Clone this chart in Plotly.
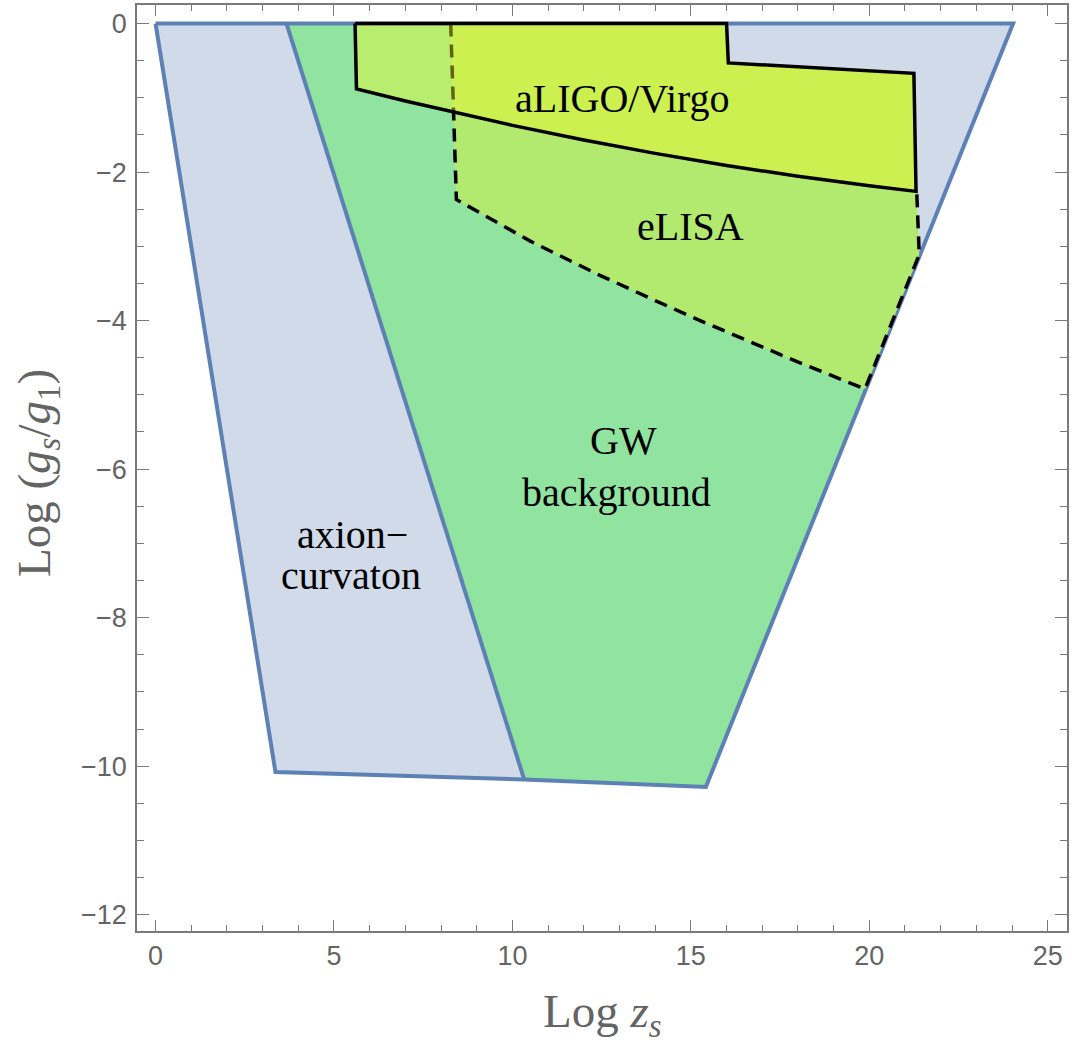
import plotly.graph_objects as go

# ---- data ----
# axion-curvaton region (outer polygon)
outer_x = [0, 24.03, 15.42, 10.33, 3.36]
outer_y = [0, 0, -10.28, -10.18, -10.08]

# GW background region
gw_x = [3.67, 10.33, 15.42, 19.88, 8.43, 8.27]
gw_y = [0, -10.18, -10.28, -4.92, -2.37, 0]
gw_edge_x = [3.67, 10.33]
gw_edge_y = [0, -10.18]

# eLISA region: visible dashed boundary, then hidden closure under aLIGO
elisa_dash_x = [8.27, 8.43, 10.5, 12.45, 14.0, 15.26, 18.06, 19.88, 21.40, 21.33]
elisa_dash_y = [0, -2.37, -2.93, -3.39, -3.73, -4.00, -4.57, -4.92, -3.11, -2.28]
elisa_close_x = [21.25, 16.05, 16.0]
elisa_close_y = [-0.67, -0.53, 0]

# aLIGO/Virgo region
aligo_x = [5.59, 16.0, 16.05, 21.25, 21.31, 20, 18, 16, 14, 12, 10, 8.3, 7, 5.63, 5.59]
aligo_y = [0, 0, -0.53, -0.67, -2.26, -2.185, -2.057, -1.911, -1.748, -1.568, -1.371, -1.189, -1.043, -0.88, 0]

# region labels: (text, x, y)
label_text = ["aLIGO/Virgo", "eLISA", "GW", "background", "axion\u2212", "curvaton"]
label_x = [13.08, 15.0, 13.1, 12.92, 5.52, 5.48]
label_y = [-1.005, -2.73, -5.615, -6.315, -6.875, -7.434]

x_range = [-0.52, 25.54]
y_range = [-12.22, 0.25]

# ---- styles ----
BLUE_FILL = "#D0DAE8"
BLUE_LINE = "#5E81B5"
GREEN_FILL = "#91E4A0"
ELISA_FILL = "#B2EA70"
ALIGO_FILL = "rgba(243,249,32,0.4)"
AXIS_GRAY = "#7a7a7a"
TEXT_GRAY = "#646464"
SERIF = "Liberation Serif, Times New Roman, serif"

fig = go.Figure()

# axion-curvaton fill
fig.add_trace(go.Scatter(x=outer_x + [outer_x[0]], y=outer_y + [outer_y[0]],
                         mode="lines", fill="toself", fillcolor=BLUE_FILL,
                         line=dict(width=0, color=BLUE_FILL), hoverinfo="skip"))
# GW background fill
fig.add_trace(go.Scatter(x=gw_x + [gw_x[0]], y=gw_y + [gw_y[0]],
                         mode="lines", fill="toself", fillcolor=GREEN_FILL,
                         line=dict(width=0, color=GREEN_FILL), hoverinfo="skip"))
# blue boundaries
fig.add_trace(go.Scatter(x=outer_x + [outer_x[0]], y=outer_y + [outer_y[0]],
                         mode="lines", line=dict(width=4, color=BLUE_LINE), hoverinfo="skip"))
fig.add_trace(go.Scatter(x=gw_edge_x, y=gw_edge_y,
                         mode="lines", line=dict(width=4, color=BLUE_LINE), hoverinfo="skip"))
# eLISA fill
ex = elisa_dash_x + elisa_close_x + [elisa_dash_x[0]]
ey = elisa_dash_y + elisa_close_y + [elisa_dash_y[0]]
fig.add_trace(go.Scatter(x=ex, y=ey, mode="lines", fill="toself", fillcolor=ELISA_FILL,
                         line=dict(width=0, color=ELISA_FILL), hoverinfo="skip"))
fig.add_trace(go.Scatter(x=elisa_dash_x, y=elisa_dash_y, mode="lines",
                         line=dict(width=3.5, color="black", dash="13px,8px"), hoverinfo="skip"))
# aLIGO/Virgo (semi-transparent overlay)
fig.add_trace(go.Scatter(x=aligo_x, y=aligo_y, mode="lines", fill="toself", fillcolor=ALIGO_FILL,
                         line=dict(width=0, color="rgba(0,0,0,0)"), hoverinfo="skip"))
fig.add_trace(go.Scatter(x=aligo_x, y=aligo_y, mode="lines",
                         line=dict(width=3.5, color="black"), hoverinfo="skip"))

for t, x, y in zip(label_text, label_x, label_y):
    fig.add_annotation(x=x, y=y, xref="x", yref="y", text=t, showarrow=False,
                       xanchor="center", yanchor="middle",
                       font=dict(family=SERIF, size=40, color="black"))

# axis titles
fig.add_annotation(x=0.5, y=-0.0907, xref="paper", yref="paper",
                   text="Log <i>z</i><sub><i>s</i></sub>", showarrow=False,
                   xanchor="center", yanchor="middle",
                   font=dict(family=SERIF, size=47, color=TEXT_GRAY))
fig.add_annotation(x=-0.1075, y=0.4946, xref="paper", yref="paper",
                   text="Log (<i>g</i><sub><i>s</i></sub>/<i>g</i><sub>1</sub>)", showarrow=False,
                   textangle=-90, xanchor="center", yanchor="middle",
                   font=dict(family=SERIF, size=47, color=TEXT_GRAY))

axis_common = dict(showgrid=False, zeroline=False, showline=True, linecolor=AXIS_GRAY,
                   linewidth=1.5, mirror="ticks", ticks="inside", tickcolor=AXIS_GRAY,
                   tickwidth=1.2, tickfont=dict(family="Liberation Sans", size=27, color=TEXT_GRAY))

fig.update_xaxes(range=x_range, tick0=0, dtick=5, ticklen=11,
                 minor=dict(dtick=1, tick0=0, ticklen=6, ticks="inside", tickcolor=AXIS_GRAY, tickwidth=1.2),
                 **axis_common)
fig.update_yaxes(range=y_range, tick0=0, dtick=2, ticklen=12, ticklabelstandoff=3,
                 minor=dict(dtick=0.5, tick0=0, ticklen=7, ticks="inside", tickcolor=AXIS_GRAY, tickwidth=1.2),
                 **axis_common)

fig.update_layout(width=1072, height=1050, showlegend=False,
                  margin=dict(l=137, r=5, t=3, b=119),
                  paper_bgcolor="white", plot_bgcolor="white")

fig.write_html("out.html")
